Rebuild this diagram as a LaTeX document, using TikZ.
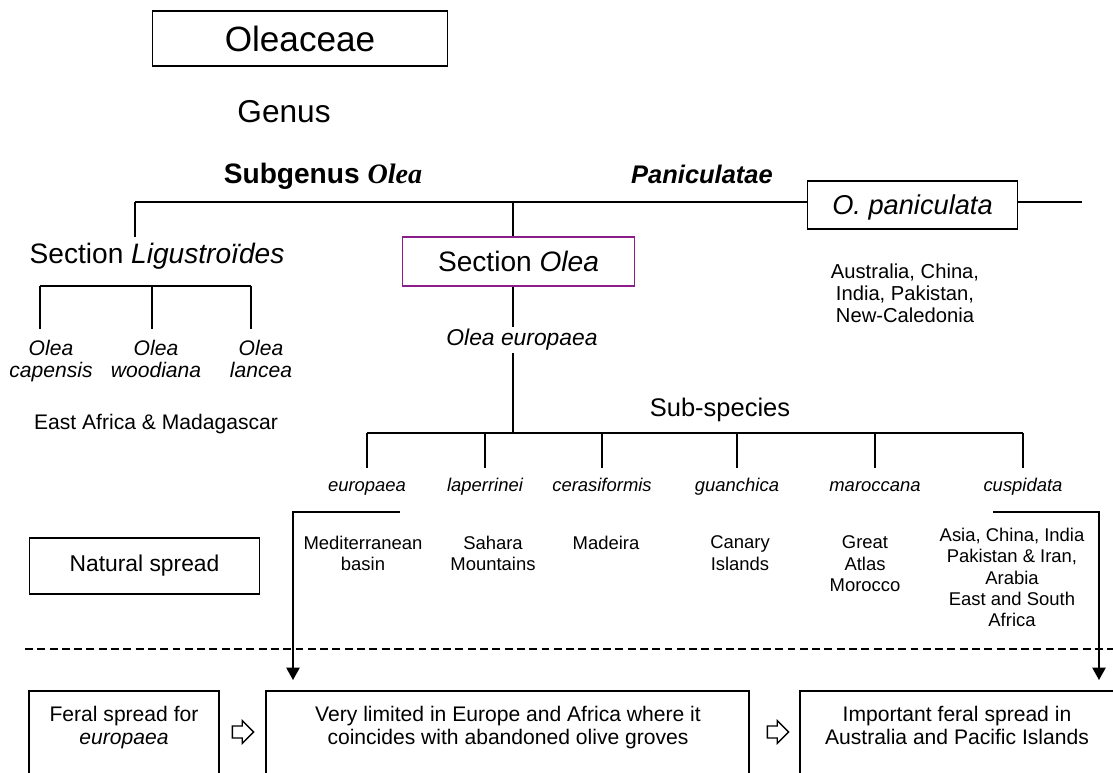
\documentclass[tikz,border=0pt]{standalone}
\usepackage{fontspec}
\setmainfont{Liberation Sans}
\newfontfamily\seriffam{Liberation Serif}
\usepackage{tikz}
\usetikzlibrary{arrows.meta}
\usetikzlibrary{shapes.arrows}
\definecolor{sectpurple}{RGB}{140,30,140}
\newcommand{\fsz}[2]{\fontsize{#1}{#2}\selectfont}
\tikzstyle{frame}=[draw=black,line width=0.9pt,inner sep=0pt]
\tikzstyle{leaf}=[font=\fsz{10.5}{12.2}\itshape,text height=7.6pt,text depth=2.2pt,inner xsep=0pt,inner ysep=5pt,anchor=base]
\tikzstyle{region}=[font=\fsz{10.5}{12.2},align=center,anchor=north,inner sep=0pt]
\tikzstyle{species}=[font=\fsz{12}{13}\itshape,align=center,anchor=north,inner xsep=0pt,inner ysep=5.7pt]
\tikzstyle{hollow}=[draw,single arrow,single arrow head extend=3pt,minimum height=12pt,inner xsep=0pt,inner ysep=3pt,line width=0.8pt]

\begin{document}
\begin{tikzpicture}[x=0.02cm,y=-0.02cm,line width=0.9pt]
      \useasboundingbox (0,0) rectangle (1113,772);
      \clip (0,0) rectangle (1113,772);

      \node[frame,minimum width=167.8pt,minimum height=31.2pt,font=\fsz{20}{24}] (fam) at (300,38.5) {Oleaceae};
      \node[anchor=base,font=\fsz{18}{22}] (gen) at (284,122) {Genus};
      \node[anchor=base,font=\fsz{16}{19}\bfseries] (sub) at (323,183) {Subgenus {\seriffam\itshape Olea}};
      \node[anchor=base,font=\fsz{14.5}{17}\bfseries\itshape] (pcl) at (702,183) {Paniculatae};

      \coordinate (hl) at (135,202);
      \coordinate (hm) at (513,202);
      \coordinate (hr) at (1082,202);
      \node[frame,minimum width=119.6pt,minimum height=27.2pt,font=\fsz{15.5}{18}\itshape,text depth=0pt] (pan) at (912.5,205) {O. paniculata};
      \draw (hl) -- (hl -| pan.west);
      \draw (pan.east |- hr) -- (hr);

      \node[anchor=base,font=\fsz{16}{19},inner sep=3pt] (lig) at (157,263) {Section \textit{Ligustroïdes}};
      \draw (hl) -- (hl |- lig.north);

      \node[frame,draw=sectpurple,minimum width=132.1pt,minimum height=27.8pt,font=\fsz{16}{19}] (sec) at (518.5,261.5) {Section \textit{Olea}};
      \node[anchor=base,font=\fsz{13}{15}\itshape,inner sep=1pt] (oeu) at (522,345.7) {Olea europaea};
      \node[region,font=\fsz{11.5}{12.5}] (aus) at (905,263) {Australia, China,\\India, Pakistan,\\New-Caledonia};

      \coordinate (bl) at (367,433);
      \coordinate (br) at (1023,433);
      \draw[line width=1.5pt] (hm) -- (hm |- sec.north);
      \draw[line width=1.5pt] (hm |- sec.south) -- (hm |- oeu.north);
      \draw[line width=1.5pt] (hm |- oeu.south) -- (hm |- bl);
      \draw (bl) -- (br);

      % section Ligustroides
      \coordinate (lb1) at (40,286);
      \coordinate (lb2) at (152,286);
      \coordinate (lb3) at (251,286);
      \node[species] (cap) at (51,329) {Olea\\capensis};
      \node[species] (woo) at (156,329) {Olea\\woodiana};
      \node[species] (lan) at (261,329) {Olea\\lancea};
      \draw (lb1) -- (lb3);
      \foreach \i/\n in {1/cap,2/woo,3/lan}{
        \draw (lb\i) -- (lb\i |- \n.north);
      }
      \node[anchor=base,font=\fsz{12}{14}] (eam) at (156,429.6) {East Africa \& Madagascar};

      % sub-species
      \node[anchor=base,font=\fsz{14.5}{17}] (ssp) at (720,416) {Sub-species};
      \foreach \x/\nm/\rx/\ry/\reg in {367/europaea/363/535/{Mediterranean\\basin},
          485/laperrinei/493/535/{Sahara\\Mountains},
          602/cerasiformis/606/535/{Madeira},
          737/guanchica/740/535/{Canary\\Islands},
          875/maroccana/865/535/{Great\\Atlas\\Morocco},
          1023/cuspidata/1012/527/{Asia, China, India\\Pakistan \& Iran,\\Arabia\\East and South\\Africa}}{
        \node[leaf] (\nm) at (\x,491) {\nm};
        \node[region] (\nm-reg) at (\rx,\ry) {\reg};
        \draw (\nm.north |- bl) -- (\nm.north);
      }

      \node[frame,minimum width=131pt,minimum height=31.8pt,font=\fsz{13}{15}] (nat) at (144.5,566) {Natural spread};

      % feral spread
      \coordinate (ea) at (400,512);
      \coordinate (et) at (293,680);
      \coordinate (ca) at (993,512);
      \coordinate (ct) at (1099,680);
      \draw[-{Triangle[width=7.5pt,length=7pt]}] (ea) -| (et);
      \draw[-{Triangle[width=7.5pt,length=7pt]}] (ca) -| (ct);

      \coordinate (dl) at (25,649);
      \coordinate (dr) at (1113,649);
      \draw[dash pattern=on 4.5pt off 2.5pt] (dl) -- (dr);

      \draw (29,691) rectangle (219,800);
      \draw (266,691) rectangle (749,800);
      \draw (800,691) rectangle (1130,800);
      \node[region,font=\fsz{12}{13}] (fer) at (124,705.4) {Feral spread for\\\textit{europaea}};
      \node[region,font=\fsz{12}{13}] (lim) at (508,705.4) {Very limited in Europe and Africa where it\\coincides with abandoned olive groves};
      \node[region,font=\fsz{12}{13}] (imp) at (957,705.4) {Important feral spread in\\Australia and Pacific Islands};
      \node[hollow] (h1) at (240,732) {};
      \node[hollow] (h2) at (775,732) {};
\end{tikzpicture}
\end{document}
